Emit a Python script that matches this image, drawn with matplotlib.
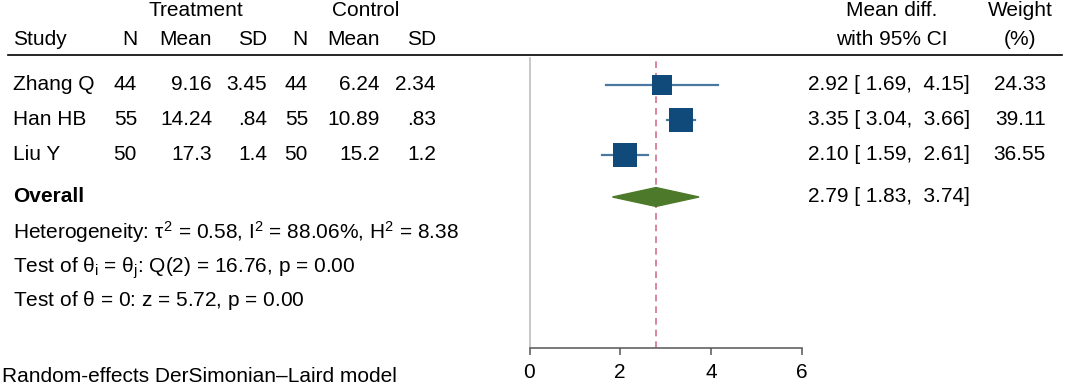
import numpy as np
import matplotlib
matplotlib.use('Agg')
from matplotlib import pyplot as plt
from matplotlib import transforms
from matplotlib.lines import Line2D
from matplotlib.patches import Polygon

plt.rcParams['font.family'] = 'Liberation Sans'
plt.rcParams['mathtext.fontset'] = 'custom'
plt.rcParams['mathtext.rm'] = 'Liberation Sans'
plt.rcParams['mathtext.it'] = 'Liberation Sans'
plt.rcParams['mathtext.bf'] = 'Liberation Sans:bold'

# study data
studies = ['Zhang Q', 'Han HB', 'Liu Y']
trt_n = ['44', '55', '50']
trt_mean = ['9.16', '14.24', '17.3']
trt_sd = ['3.45', '.84', '1.4']
ctl_n = ['44', '55', '50']
ctl_mean = ['6.24', '10.89', '15.2']
ctl_sd = ['2.34', '.83', '1.2']

md = [2.92, 3.35, 2.10]
ci_lo = [1.69, 3.04, 1.59]
ci_hi = [4.15, 3.66, 2.61]
weight = [24.33, 39.11, 36.55]

overall_md = 2.79
overall_lo = 1.83
overall_hi = 3.74

het_text = r'Heterogeneity: $\tau^2$ = 0.58, $\mathrm{I}^2$ = 88.06%, $\mathrm{H}^2$ = 8.38'
q_text = r'Test of $\theta_\mathrm{i}$ = $\theta_\mathrm{j}$: Q(2) = 16.76, p = 0.00'
z_text = r'Test of $\theta$ = 0: z = 5.72, p = 0.00'
footnote = 'Random-effects DerSimonian\u2013Laird model'

xticks = [0, 2, 4, 6]

W, H = 1065, 387
FS = 15
sq_col = '#0f4a7a'
ci_col = '#4a78a0'
dia_col = '#4c7a2a'
ref_col = '#d4708a'

fig = plt.figure(figsize=(W / 100, H / 100), dpi=100)
ax = fig.add_axes([529.5 / W, 1 - 348 / H, 272 / W, (348 - 58) / H])

ax.set_xlim(0, 6)
ax.set_ylim(7.514, -0.771)
ax.set_xticks(xticks)
ax.set_yticks([])
ax.spines['top'].set_visible(False)
ax.spines['right'].set_visible(False)
ax.spines['left'].set_color('#bdbdbd')
ax.spines['left'].set_linewidth(1.2)
ax.spines['bottom'].set_color('#555555')
ax.spines['bottom'].set_linewidth(1.1)
ax.tick_params(axis='x', length=5, width=1.1, color='#555555', labelsize=FS, pad=6)
ax.patch.set_alpha(0)

rows = np.arange(len(studies))
ax.axvline(overall_md, color=ref_col, lw=1.2, ls=(0, (4, 3)), zorder=1)

for i in range(len(studies)):
    ax.plot([ci_lo[i], ci_hi[i]], [rows[i], rows[i]], color=ci_col, lw=1.6, zorder=2)
    ax.plot(md[i], rows[i], marker='s', ms=2.8 * np.sqrt(weight[i]), color=sq_col,
            mec=sq_col, mew=0, zorder=3)

y_over = 3.2
dh = 0.27
dia = Polygon([[overall_lo, y_over], [overall_md, y_over - dh], [overall_hi, y_over],
               [overall_md, y_over + dh]], closed=True, color=dia_col, zorder=3)
ax.add_patch(dia)

# text columns
tr = transforms.blended_transform_factory(fig.transFigure, ax.transData)

def put(x, y, s, ha='left', **kw):
    ax.text(x / W, y, s, transform=tr, ha=ha, va='center', fontsize=FS, clip_on=False, **kw)

y_h1, y_h2 = -2.14, -1.31
put(196, y_h1, 'Treatment', ha='center')
put(366, y_h1, 'Control', ha='center')
put(892, y_h1, 'Mean diff.', ha='center')
put(1020, y_h1, 'Weight', ha='center')
put(13, y_h2, 'Study')
put(137, y_h2, 'N', ha='right')
put(212, y_h2, 'Mean', ha='right')
put(267, y_h2, 'SD', ha='right')
put(308, y_h2, 'N', ha='right')
put(380, y_h2, 'Mean', ha='right')
put(436, y_h2, 'SD', ha='right')
put(892, y_h2, 'with 95% CI', ha='center')
put(1020, y_h2, '(%)', ha='center')

fig.add_artist(Line2D([8 / W, 1062 / W], [1 - 55 / H, 1 - 55 / H], color='black', lw=1.2))

for i in range(len(studies)):
    y = rows[i]
    put(13, y, studies[i])
    put(137, y, trt_n[i], ha='right')
    put(212, y, trt_mean[i], ha='right')
    put(267, y, trt_sd[i], ha='right')
    put(308, y, ctl_n[i], ha='right')
    put(380, y, ctl_mean[i], ha='right')
    put(436, y, ctl_sd[i], ha='right')
    put(970, y, f'{md[i]:.2f} [{ci_lo[i]:5.2f}, {ci_hi[i]:5.2f}]', ha='right')
    put(1046, y, f'{weight[i]:.2f}', ha='right')

put(13, y_over, 'Overall', fontweight='bold')
put(970, y_over, f'{overall_md:.2f} [{overall_lo:5.2f}, {overall_hi:5.2f}]', ha='right')
put(13, 4.2, het_text)
put(13, 5.23, q_text)
put(13, 6.17, z_text)

fig.text(2 / W, 1 - 377 / H, footnote, ha='left', va='center', fontsize=FS)

fig.savefig('out.png', dpi=100)
